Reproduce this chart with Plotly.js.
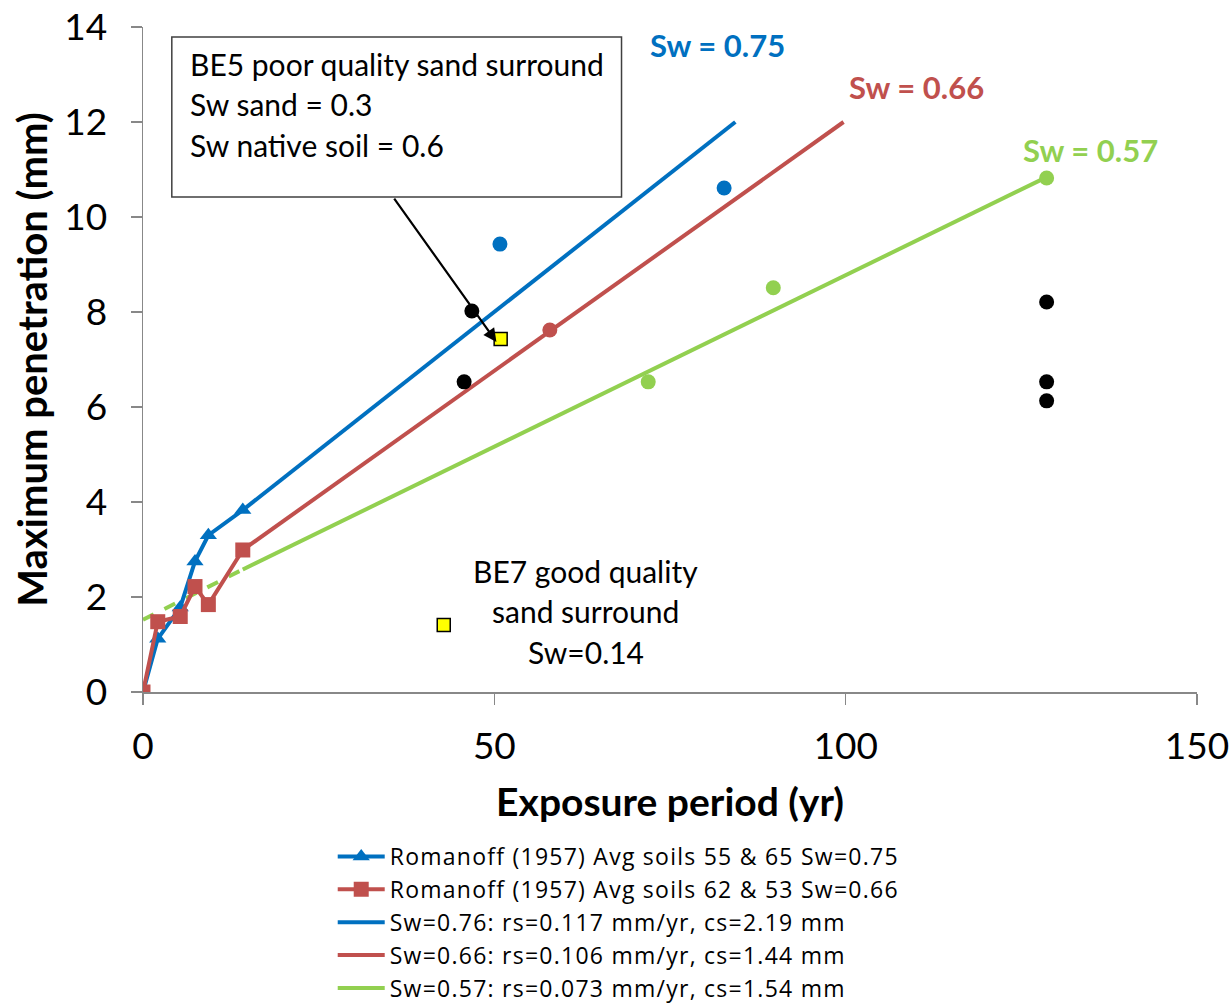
<!DOCTYPE html>
<html>
<head>
<meta charset="utf-8">
<script src="https://cdn.plot.ly/plotly-3.0.1.min.js"></script>
<style>
html,body{margin:0;padding:0;background:#fff;}
#chart{width:1232px;height:1003px;}
text.legendtext{letter-spacing:1.25px;}
</style>
</head>
<body>
<div id="chart"></div>
<script>
// Romanoff (1957) data
const romX = [0, 2.1, 5.3, 7.4, 9.3, 14.2];
const romBlueY = [0, 1.12, 1.78, 2.75, 3.3, 3.83];
const romRedY = [0, 1.48, 1.59, 2.22, 1.84, 2.99];

// fitted model lines (end points)
const fitBlueX = [14.2, 84.3];
const fitBlueY = [3.83, 12.0];
const fitRedX = [14.2, 99.7];
const fitRedY = [2.99, 12.0];
const fitGreenX = [14.2, 128.6];
const fitGreenY = [2.58, 10.84];
const fitGreenDashX = [0, 14.2];
const fitGreenDashY = [1.52, 2.58];

// field observations
const obsBlueX = [50.8, 82.7];
const obsBlueY = [9.43, 10.61];
const obsRedX = [57.9];
const obsRedY = [7.62];
const obsGreenX = [71.9, 89.7, 128.6];
const obsGreenY = [6.53, 8.51, 10.82];
const obsBlackX = [46.8, 45.7, 128.6, 128.6, 128.6];
const obsBlackY = [8.02, 6.53, 8.21, 6.53, 6.13];
const sandX = [50.9, 42.8];
const sandY = [7.43, 1.41];

const legendNames = [
  'Romanoff (1957) Avg soils 55 & 65 Sw=0.75',
  'Romanoff (1957) Avg soils 62 & 53 Sw=0.66',
  'Sw=0.76: rs=0.117 mm/yr, cs=2.19 mm',
  'Sw=0.66: rs=0.106 mm/yr, cs=1.44 mm',
  'Sw=0.57: rs=0.073 mm/yr, cs=1.54 mm'
];

const BLUE = '#0070C0', RED = '#C0504D', GREEN = '#92D050';
const FONT = 'Lato, "Open Sans", sans-serif';

const traces = [
  {x: fitGreenDashX, y: fitGreenDashY, mode: 'lines', line: {color: GREEN, width: 4, dash: 'dash'}, showlegend: false, hoverinfo: 'skip'},
  {x: romX, y: romBlueY, mode: 'lines+markers', name: legendNames[0], line: {color: BLUE, width: 4}, marker: {symbol: 'triangle-up', size: 15, color: BLUE}},
  {x: romX, y: romRedY, mode: 'lines+markers', name: legendNames[1], line: {color: RED, width: 4}, marker: {symbol: 'square', size: 15, color: RED}},
  {x: fitBlueX, y: fitBlueY, mode: 'lines', name: legendNames[2], line: {color: BLUE, width: 4}},
  {x: fitRedX, y: fitRedY, mode: 'lines', name: legendNames[3], line: {color: RED, width: 4}},
  {x: fitGreenX, y: fitGreenY, mode: 'lines', name: legendNames[4], line: {color: GREEN, width: 4}},
  {x: obsBlueX, y: obsBlueY, mode: 'markers', marker: {color: BLUE, size: 15}, showlegend: false},
  {x: obsRedX, y: obsRedY, mode: 'markers', marker: {color: RED, size: 15}, showlegend: false},
  {x: obsGreenX, y: obsGreenY, mode: 'markers', marker: {color: GREEN, size: 15}, showlegend: false},
  {x: obsBlackX, y: obsBlackY, mode: 'markers', marker: {color: '#000', size: 15}, showlegend: false},
  {x: sandX, y: sandY, mode: 'markers', marker: {symbol: 'square', color: '#FFFF00', size: 13, line: {color: '#000', width: 1.5}}, showlegend: false}
];

const annFont = {family: FONT, size: 30, color: '#000'};
const annotations = [
  {x: 6.4, y: 13.22, xanchor: 'left', yanchor: 'middle', text: 'BE5 poor quality sand surround', showarrow: false, font: annFont},
  {x: 6.4, y: 12.38, xanchor: 'left', yanchor: 'middle', text: 'Sw sand = 0.3', showarrow: false, font: annFont},
  {x: 6.4, y: 11.52, xanchor: 'left', yanchor: 'middle', text: 'Sw native soil = 0.6', showarrow: false, font: annFont},
  {x: 63.0, y: 2.55, xanchor: 'center', yanchor: 'middle', text: 'BE7 good quality', showarrow: false, font: annFont},
  {x: 63.0, y: 1.71, xanchor: 'center', yanchor: 'middle', text: 'sand surround', showarrow: false, font: annFont},
  {x: 63.0, y: 0.84, xanchor: 'center', yanchor: 'middle', text: 'Sw=0.14', showarrow: false, font: annFont},
  {x: 81.8, y: 13.62, text: '<b>Sw = 0.75</b>', showarrow: false, font: {family: FONT, size: 31, color: BLUE}},
  {x: 110.1, y: 12.74, text: '<b>Sw = 0.66</b>', showarrow: false, font: {family: FONT, size: 31, color: RED}},
  {x: 134.9, y: 11.41, text: '<b>Sw = 0.57</b>', showarrow: false, font: {family: FONT, size: 31, color: GREEN}},
  {x: 50.3, y: 7.37, ax: 35.6, ay: 10.42, axref: 'x', ayref: 'y', text: '', showarrow: true, arrowhead: 2, arrowsize: 1.2, arrowwidth: 2.2, arrowcolor: '#000'}
];

const shapes = [
  {type: 'rect', xref: 'x', yref: 'y', x0: 4.1, x1: 68.1, y0: 10.42, y1: 13.79, line: {color: '#404040', width: 1.5}, fillcolor: '#fff', layer: 'above'}
];

const layout = {
  width: 1232, height: 1003,
  margin: {l: 143, r: 35, t: 27, b: 311, autoexpand: false},
  paper_bgcolor: '#fff', plot_bgcolor: '#fff',
  font: {family: FONT, color: '#000'},
  showlegend: true,
  legend: {x: 0.18, y: -0.215, xanchor: 'left', yanchor: 'top', font: {family: '"Open Sans", Lato, sans-serif', size: 23, color: '#000'}, bgcolor: 'rgba(0,0,0,0)', tracegroupgap: 0, itemwidth: 47},
  xaxis: {
    range: [0, 150], tickvals: [0, 50, 100, 150], showgrid: false, zeroline: false,
    showline: true, linecolor: '#888', linewidth: 1.5, ticks: 'outside', ticklen: 11, tickcolor: '#888', tickwidth: 1.5,
    ticklabelstandoff: 10,
    tickfont: {family: FONT, size: 37, color: '#000'},
    title: {text: '<b>Exposure period (yr)</b>', font: {family: FONT, size: 39, color: '#000'}, standoff: 23}
  },
  yaxis: {
    range: [0, 14], tickvals: [0, 2, 4, 6, 8, 10, 12, 14], showgrid: false, zeroline: false,
    showline: true, linecolor: '#888', linewidth: 1.5, ticks: 'outside', ticklen: 11, tickcolor: '#888', tickwidth: 1.5,
    ticklabelstandoff: 16,
    tickfont: {family: FONT, size: 37, color: '#000'},
    title: {text: '<b>Maximum penetration (mm)</b>', font: {family: FONT, size: 40, color: '#000'}, standoff: 4}
  },
  annotations: annotations,
  shapes: shapes
};

Plotly.newPlot('chart', traces, layout, {displayModeBar: false, staticPlot: true});
</script>
</body>
</html>
